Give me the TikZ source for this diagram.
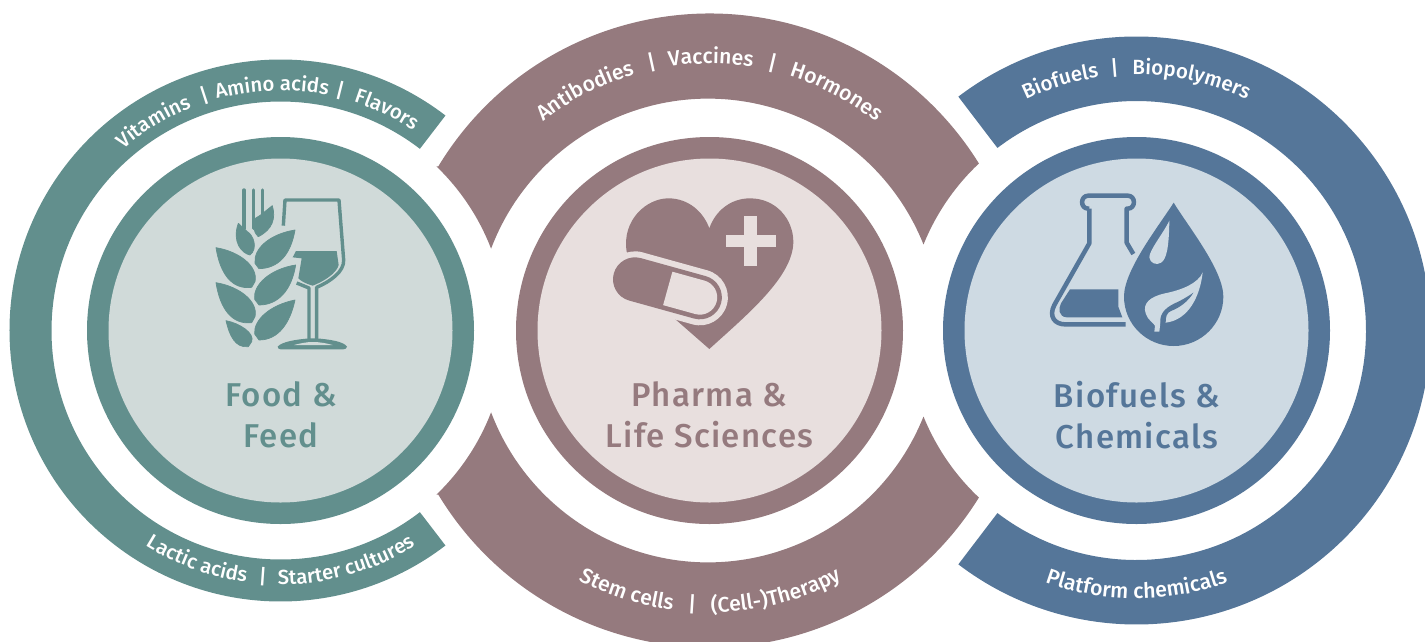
\documentclass[tikz,border=0pt]{standalone}
\usepackage{fontspec}
\setmainfont{Fira Sans}
\newfontfamily\titlefont[LetterSpace=4]{Fira Sans Medium}
\newfontfamily\arcfont{Fira Sans Medium}
\usetikzlibrary{calc,decorations.text}
\definecolor{teal}{HTML}{628F8D}
\definecolor{teall}{HTML}{D0DAD9}
\definecolor{mauve}{HTML}{957A7E}
\definecolor{mauvel}{HTML}{E8DFDE}
\definecolor{bluec}{HTML}{557699}
\definecolor{bluel}{HTML}{CEDAE3}
\tikzset{
  titletext/.style={font=\titlefont\fontsize{33}{41}\selectfont,align=center,anchor=center,inner sep=0pt},
  zoomframe/.style={x=0.33333pt,y=-0.33333pt},
  leaf/.style={fill=teal,draw=teal,line width=0.7pt,line join=round},
}
\newcommand\arcsize{\fontsize{20.3}{23}\selectfont}
% centre, radius, angle, text : reads clockwise over the top
\newcommand\toptxt[4]{\path[postaction={decorate,decoration={text along path,text format delimiters={[}{]},text align=center,text={[\color{white}\arcfont\arcsize]#4}}}]
  ($(#1)+(#3+36:#2pt)$) arc[start angle=#3+36,end angle=#3-36,radius=#2pt];}
% centre, radius, angle, text : reads counter-clockwise under the bottom
\newcommand\bottxt[4]{\path[postaction={decorate,decoration={text along path,text format delimiters={[}{]},text align=center,text={[\color{white}\arcfont\arcsize]#4}}}]
  ($(#1)+(#3-36:#2pt)$) arc[start angle=#3-36,end angle=#3+36,radius=#2pt];}
\begin{document}
\begin{tikzpicture}[x=1pt,y=-1pt]
\useasboundingbox (0,0) rectangle (1425,641);
\coordinate (L) at (280.5,330.5);
\coordinate (M) at (709.5,330.5);
\coordinate (R) at (1136.5,330.5);
\begin{scope}
\clip (0,0) rectangle (1425,641);
% left ring
\fill[teal] ($(L)+(52.5:271pt)$) arc[start angle=52.5,end angle=307.5,radius=271pt]
  -- ($(L)+(307.5:229pt)$) arc[start angle=307.5,end angle=52.5,radius=229pt] -- cycle;
% right ring
\fill[bluec] ($(R)+(127.3:294pt)$) arc[start angle=127.3,end angle=-127.3,radius=294pt]
  -- ($(R)+(-127.3:229.5pt)$) arc[start angle=-127.3,end angle=127.3,radius=229.5pt] -- cycle;
% middle top
\fill[mauve] ($(M)+(148.8:317pt)$) arc[start angle=148.8,end angle=31.8,radius=317pt]
  arc[start angle=133.3,end angle=158,radius=229.5pt]
  arc[start angle=21.8,end angle=159.3,radius=232pt]
  arc[start angle=21.1,end angle=46.1,radius=228pt] -- cycle;
% middle bottom
\fill[mauve] ($(M)+(-148.8:317pt)$) arc[start angle=-148.8,end angle=-31.8,radius=317pt]
  arc[start angle=-133.3,end angle=-158,radius=229.5pt]
  arc[start angle=-21.8,end angle=-159.3,radius=232pt]
  arc[start angle=-21.1,end angle=-46.1,radius=228pt] -- cycle;
\end{scope}
% discs
\fill[teal] (L) circle[radius=193.5pt];
\fill[teall] (L) circle[radius=172pt];
\fill[mauve] (M) circle[radius=193.5pt];
\fill[mauvel] (M) circle[radius=172pt];
\fill[bluec] (R) circle[radius=193.5pt];
\fill[bluel] (R) circle[radius=172pt];
% arc labels
\toptxt{L}{240}{121.3}{Vitamins}
\toptxt{L}{240}{108}{|}
\toptxt{L}{240}{92}{Amino acids}
\toptxt{L}{240}{76}{|}
\toptxt{L}{240}{64.3}{Flavors}
\bottxt{L}{254}{250.1}{Lactic acids}
\bottxt{L}{254}{265.9}{|}
\bottxt{L}{254}{285.8}{Starter cultures}
\renewcommand\arcsize{\fontsize{21.2}{23}\selectfont}
\toptxt{M}{267}{117.4}{Antibodies}
\toptxt{M}{267}{102.2}{|}
\toptxt{M}{267}{89.7}{Vaccines}
\toptxt{M}{267}{76.7}{|}
\toptxt{M}{267}{62}{Hormones}
\bottxt{M}{282}{252.4}{Stem cells}
\bottxt{M}{282}{266.4}{|}
\bottxt{M}{282}{284.2}{(Cell-)Therapy}
\renewcommand\arcsize{\fontsize{20.6}{23}\selectfont}
\toptxt{R}{256}{107}{Biofuels}
\toptxt{R}{256}{94.8}{|}
\toptxt{R}{256}{77.7}{Biopolymers}
\renewcommand\arcsize{\fontsize{21.3}{23}\selectfont}
\bottxt{R}{268}{270}{Platform chemicals}
% titles
\node[titletext,text=teal] (food) at (281,415) {Food \&\\Feed};
\node[titletext,text=mauve] (pharma) at (709.5,415) {Pharma \&\\Life Sciences};
\node[titletext,text=bluec] (bio) at (1137,415) {Biofuels \&\\Chemicals};
% ---- wheat and glass
\begin{scope}[shift={(190,170)},zoomframe]
  \draw[teal,line width=3.4pt,line cap=round] (162,60) -- (162,175);
  \draw[teal,line width=3.4pt,line cap=round] (190,60) -- (190,175);
  \draw[teal,line width=3.4pt,line cap=round] (218,60) -- (218,135);
  \path[leaf] (247,107) .. controls (258,145) and (248,178) .. (205,200) .. controls (188,185) and (188,160) .. (196,145) -- (212,135) -- cycle;
  \path[leaf] (145,160) -- (172,185) .. controls (190,195) and (205,235) .. (180,255) .. controls (155,250) and (125,215) .. (145,160) -- cycle;
  \path[leaf] (315,180) .. controls (240,192) and (190,235) .. (195,280) -- (207,296) .. controls (265,295) and (302,255) .. (315,180) -- cycle;
  \path[leaf] (317,285) .. controls (240,297) and (188,345) .. (194,388) -- (207,405) .. controls (265,405) and (305,360) .. (317,285) -- cycle;
  \path[leaf] (315,390) .. controls (240,405) and (190,450) .. (194,492) -- (207,510) .. controls (265,510) and (300,460) .. (315,390) -- cycle;
  \path[leaf] (78,233) .. controls (150,245) and (205,290) .. (195,335) -- (185,352) .. controls (125,360) and (90,310) .. (78,233) -- cycle;
  \path[leaf] (78,338) .. controls (150,350) and (205,395) .. (195,440) -- (185,458) .. controls (125,465) and (90,415) .. (78,338) -- cycle;
  \path[leaf] (108,452) .. controls (150,460) and (195,490) .. (185,515) -- (175,530) .. controls (135,535) and (118,495) .. (108,452) -- cycle;
  % glass
  \draw[teal,line width=3.4pt,line join=round] (280,167) -- (285,90) -- (447,90) -- (461,270) .. controls (463,305) and (420,335) .. (380,352) -- (380,510);
  \draw[teal,line width=3.4pt,line join=round] (320,339) -- (357,354) -- (357,510);
  \fill[teal] (318,243) -- (440,243) -- (446,285) .. controls (440,310) and (400,335) .. (368,347) .. controls (350,342) and (335,335) .. (325,325) -- (335,265) -- (308,262) -- cycle;
  \fill[teal] (263,530) .. controls (275,515) and (320,508) .. (360,505) -- (378,505) .. controls (420,508) and (462,515) .. (471,530) .. controls (471,535) and (465,538) .. (460,538) -- (272,538) .. controls (267,538) and (263,535) .. (263,530) -- cycle;
  \fill[teall] (312,525) .. controls (330,520) and (350,516) .. (368,516) .. controls (390,516) and (410,520) .. (428,525) -- cycle;
\end{scope}
% ---- heart and capsule
\begin{scope}[shift={(600,180)},zoomframe]
  \fill[mauve] (80,215) .. controls (65,120) and (140,55) .. (205,55) .. controls (265,55) and (310,95) .. (328,145) .. controls (345,95) and (390,55) .. (450,55) .. controls (530,55) and (580,120) .. (580,185) .. controls (580,290) and (440,405) .. (328,507) -- (200,395) -- cycle;
  \fill[mauvel] (433,108) rectangle (472,257);
  \fill[mauvel] (378,165) rectangle (527,200);
  \begin{scope}[shift={(105,298)},rotate=-15.5]
    \draw[mauvel,line width=56pt,line cap=round] (0,0) -- (202,0);
    \draw[mauve,line width=44pt,line cap=round] (0,0) -- (202,0);
    \fill[mauvel] (102,-52) -- (202,-52) arc[start angle=90,end angle=-90,radius=17.33pt] -- (102,52) -- cycle;
  \end{scope}
\end{scope}
% ---- flask and drop
\begin{scope}[shift={(1035,180)},zoomframe]
  \draw[bluec,line width=4.5pt,line join=round] (163,86) -- (160,86) .. controls (135,86) and (135,47) .. (160,47) -- (278,47) .. controls (303,47) and (303,86) .. (278,86) -- (275,86) -- (275,188) -- (295,222);
  \draw[bluec,line width=4.5pt,line join=round] (163,86) -- (163,190) -- (58,375) .. controls (40,410) and (60,433) .. (90,433) -- (272,433);
  \fill[bluec] (105,328) -- (250,328) -- (250,380) -- (262,412) -- (95,412) .. controls (70,410) and (70,385) .. (78,370) -- cycle;
  \draw[bluel,line width=4pt] (416,68) .. controls (370,140) and (267,270) .. (267,350) .. controls (267,432) and (334,498) .. (416,498) .. controls (498,498) and (565,432) .. (565,350) .. controls (565,270) and (460,140) .. (416,68) -- cycle;
  \fill[bluec] (416,68) .. controls (370,140) and (267,270) .. (267,350) .. controls (267,432) and (334,498) .. (416,498) .. controls (498,498) and (565,432) .. (565,350) .. controls (565,270) and (460,140) .. (416,68) -- cycle;
  \fill[bluel] (403,122) .. controls (385,160) and (343,210) .. (343,232) .. controls (345,250) and (365,257) .. (378,248) .. controls (395,238) and (402,200) .. (403,122) -- cycle;
  \fill[bluel] (503,277) .. controls (490,310) and (440,330) .. (390,340) .. controls (345,350) and (322,370) .. (332,400) .. controls (338,420) and (355,428) .. (360,437) -- (358,455) -- (373,455) -- (376,428) -- (392,428) .. controls (460,420) and (495,350) .. (503,277) -- cycle;
  \fill[bluec] (376,430) .. controls (372,395) and (400,378) .. (430,365) .. controls (450,355) and (465,345) .. (475,338) .. controls (460,365) and (430,385) .. (410,392) .. controls (395,397) and (392,410) .. (392,428) -- cycle;
\end{scope}
\end{tikzpicture}
\end{document}
